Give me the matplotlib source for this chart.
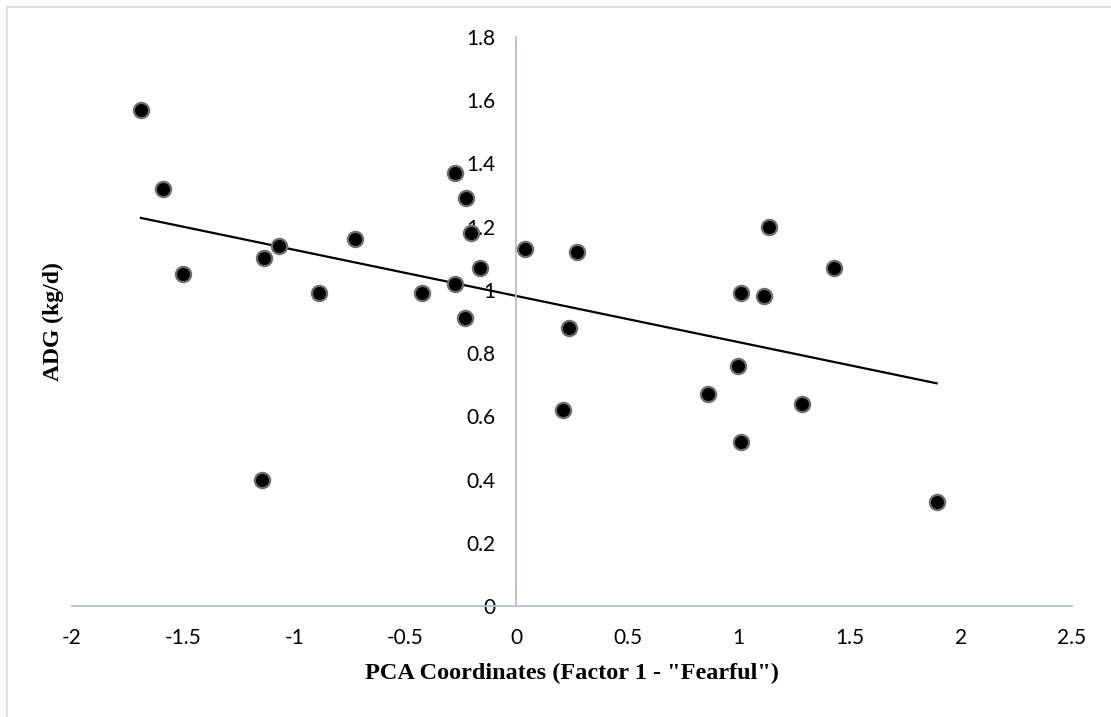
import numpy as np
import matplotlib
matplotlib.use("Agg")
from matplotlib import pyplot as plt
from matplotlib.lines import Line2D
from matplotlib.ticker import FormatStrFormatter, MultipleLocator

# PCA factor 1 coordinates and ADG (kg/d)
pca_left = [-1.69, -1.59, -1.50, -1.135, -1.07, -1.147, -0.887, -0.727,
            -0.427, -0.277, -0.226, -0.205, -0.166, -0.275, -0.232]
adg_left = [1.57, 1.32, 1.05, 1.10, 1.14, 0.40, 0.99, 1.16,
            0.99, 1.37, 1.29, 1.18, 1.07, 1.02, 0.91]
pca_right = [0.037, 0.272, 0.237, 0.208, 1.138, 1.431, 1.01,
             1.115, 0.997, 0.862, 1.285, 1.01, 1.891]
adg_right = [1.13, 1.12, 0.88, 0.62, 1.20, 1.07, 0.99,
             0.98, 0.76, 0.67, 0.64, 0.52, 0.33]

x_ticks = [-2, -1.5, -1, -0.5, 0, 0.5, 1, 1.5, 2, 2.5]
y_ticks = [0, 0.2, 0.4, 0.6, 0.8, 1, 1.2, 1.4, 1.6, 1.8]

x = np.array(pca_left + pca_right)
y = np.array(adg_left + adg_right)

axis_col = "#b4c0d6"

fig = plt.figure(figsize=(11.11, 7.17), dpi=100)
ax = fig.add_axes([72 / 1111, 1 - 606 / 717, 1000 / 1111, (606 - 37) / 717])

# linear trendline over the data range
slope, icpt = np.polyfit(x, y, 1)
xl = np.array([x.min(), x.max()])
ax.plot(xl, slope * xl + icpt, color="black", lw=1.6, zorder=2)

ax.scatter(x, y, s=120, color="black", edgecolors="#6e6e6e",
           linewidths=1.6, zorder=3)

ax.set_xlim(x_ticks[0], x_ticks[-1])
ax.set_ylim(y_ticks[0], y_ticks[-1])
ax.xaxis.set_major_locator(MultipleLocator(0.5))
ax.yaxis.set_major_locator(MultipleLocator(0.2))
ax.xaxis.set_major_formatter(FormatStrFormatter("%g"))
ax.yaxis.set_major_formatter(FormatStrFormatter("%g"))

ax.spines["left"].set_position(("data", 0))
ax.spines["bottom"].set_position(("data", 0))
ax.spines["right"].set_visible(False)
ax.spines["top"].set_visible(False)
for s in ("left", "bottom"):
    ax.spines[s].set_color(axis_col)
    ax.spines[s].set_linewidth(1.3)

ax.tick_params(length=0, labelsize=15)
ax.tick_params(axis="x", pad=16)
ax.tick_params(axis="y", pad=15)
for lab in ax.get_xticklabels() + ax.get_yticklabels():
    lab.set_fontfamily("Lato")

fig.text(572 / 1111, 1 - 673 / 717, 'PCA Coordinates (Factor 1 - "Fearful")',
         ha="center", va="center", fontsize=17.5, fontweight="bold",
         family="Liberation Serif")
fig.text(53 / 1111, 1 - 322 / 717, "ADG (kg/d)", rotation=90,
         ha="center", va="center", fontsize=17, fontweight="bold",
         family="Liberation Serif")

# chart frame: only its top and left edges are inside the picture
fx, fy = 6.5 / 1111, 1 - 6.5 / 717
fig.lines.append(Line2D([fx, 1], [fy, fy], transform=fig.transFigure,
                        color="#d9d9d9", lw=1.2))
fig.lines.append(Line2D([fx, fx], [0, fy], transform=fig.transFigure,
                        color="#d9d9d9", lw=1.2))

fig.savefig("out.png", dpi=100)
